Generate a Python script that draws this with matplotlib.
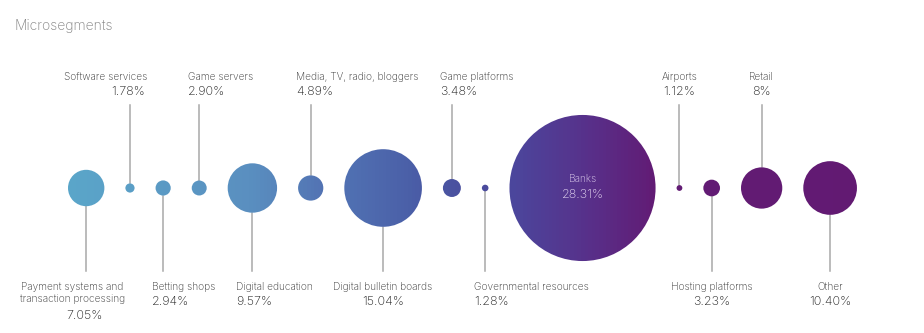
import numpy as np
import matplotlib.pyplot as plt
from matplotlib.patches import Circle, PathPatch
from matplotlib.path import Path
from matplotlib.colors import LinearSegmentedColormap

plt.rcParams['font.family'] = ['Inter', 'DejaVu Sans']
plt.rcParams['font.weight'] = 'light'

# segment names and shares (%)
names = ["Payment systems and\ntransaction processing", "Software services", "Betting shops",
         "Game servers", "Digital education", "Media, TV, radio, bloggers",
         "Digital bulletin boards", "Game platforms", "Governmental resources", "Banks",
         "Airports", "Hosting platforms", "Retail", "Other"]
shares = [7.05, 1.78, 2.94, 2.90, 9.57, 4.89, 15.04, 3.48, 1.28, 28.31, 1.12, 3.23, 8, 10.40]
pct_text = ["7.05%", "1.78%", "2.94%", "2.90%", "9.57%", "4.89%", "15.04%", "3.48%",
            "1.28%", "28.31%", "1.12%", "3.23%", "8%", "10.40%"]

# label placement: side, alignment, x offsets of name / percent from the leader line
side = ["b", "t", "b", "t", "b", "t", "b", "t", "b", "in", "t", "b", "t", "b"]
ha = ["center", "right", "left", "left", "left", "left", "center", "left", "left",
      "center", "center", "center", "center", "center"]
dx_name = [-14, 17, -11, -11, -16, -15, 0, -12, -11, 0, 0, 0, 0, 0]
dx_pct = [-2, 15, -11, -11, -16, -15, 0, -12, -11, 0, 0, 0, 0, 0]

W, H = 924, 333
k = 2.58       # px of radius per percent
gap = 21
x0 = 68
cy = 188

r = np.array(shares) * k
xs = []
left = x0
for ri in r:
    xs.append(left + ri)
    left += 2 * ri + gap

fig = plt.figure(figsize=(W / 100, H / 100), dpi=100)
ax = fig.add_axes([0, 0, 1, 1])
ax.set_xlim(0, W)
ax.set_ylim(H, 0)
ax.axis("off")

# horizontal blue -> purple gradient, clipped to the bubbles
cmap = LinearSegmentedColormap.from_list("seg", [
    (0.0, "#5ba7ca"), (60 / W, "#5ba7ca"), (250 / W, "#5a8fc0"), (320 / W, "#5374b4"),
    (350 / W, "#5070b2"), (420 / W, "#4a5ca6"), (455 / W, "#4a52a0"), (515 / W, "#4c469c"),
    (590 / W, "#58308a"), (655 / W, "#621c75"), (1.0, "#621a72")])
grad = np.linspace(0, 1, W).reshape(1, -1)
img = ax.imshow(grad, cmap=cmap, extent=(0, W, H, 0), aspect="auto", zorder=2)
paths = [Circle((x, cy), ri).get_path().transformed(Circle((x, cy), ri).get_patch_transform())
         for x, ri in zip(xs, r)]
clip = PathPatch(Path.make_compound_path(*paths), transform=ax.transData,
                 facecolor="none", edgecolor="none")
ax.add_patch(clip)
img.set_clip_path(clip)

line_c = "#a8a8a8"
name_c = "#333333"
pct_c = "#1e1e1e"
for i in range(len(names)):
    x, ri = xs[i], r[i]
    if side[i] == "t":
        ax.plot([x, x], [105, cy - ri], color=line_c, lw=1.1, zorder=1)
        ax.text(x + dx_name[i], 77, names[i], ha=ha[i], va="center", fontsize=7.3, color=name_c)
        ax.text(x + dx_pct[i], 92, pct_text[i], ha=ha[i], va="center", fontsize=9, color=pct_c)
    elif side[i] == "b":
        ax.plot([x, x], [cy + ri, 271], color=line_c, lw=1.1, zorder=1)
        nl = names[i].count("\n")
        ax.text(x + dx_name[i], 282, names[i], ha=ha[i], va="top", fontsize=7.3,
                color=name_c, linespacing=1.25, multialignment="center")
        ax.text(x + dx_pct[i], 302 + 14 * nl, pct_text[i], ha=ha[i], va="center",
                fontsize=9, color=pct_c)
    else:
        ax.text(x, 179, names[i], ha="center", va="center", fontsize=7.3, color="#e2d2f0", zorder=3)
        ax.text(x, 195, pct_text[i], ha="center", va="center", fontsize=9, color="#eadcf5", zorder=3)

ax.text(14, 26, "Microsegments", ha="left", va="center", fontsize=10, color="#808080")

fig.savefig("out.png", dpi=100)
